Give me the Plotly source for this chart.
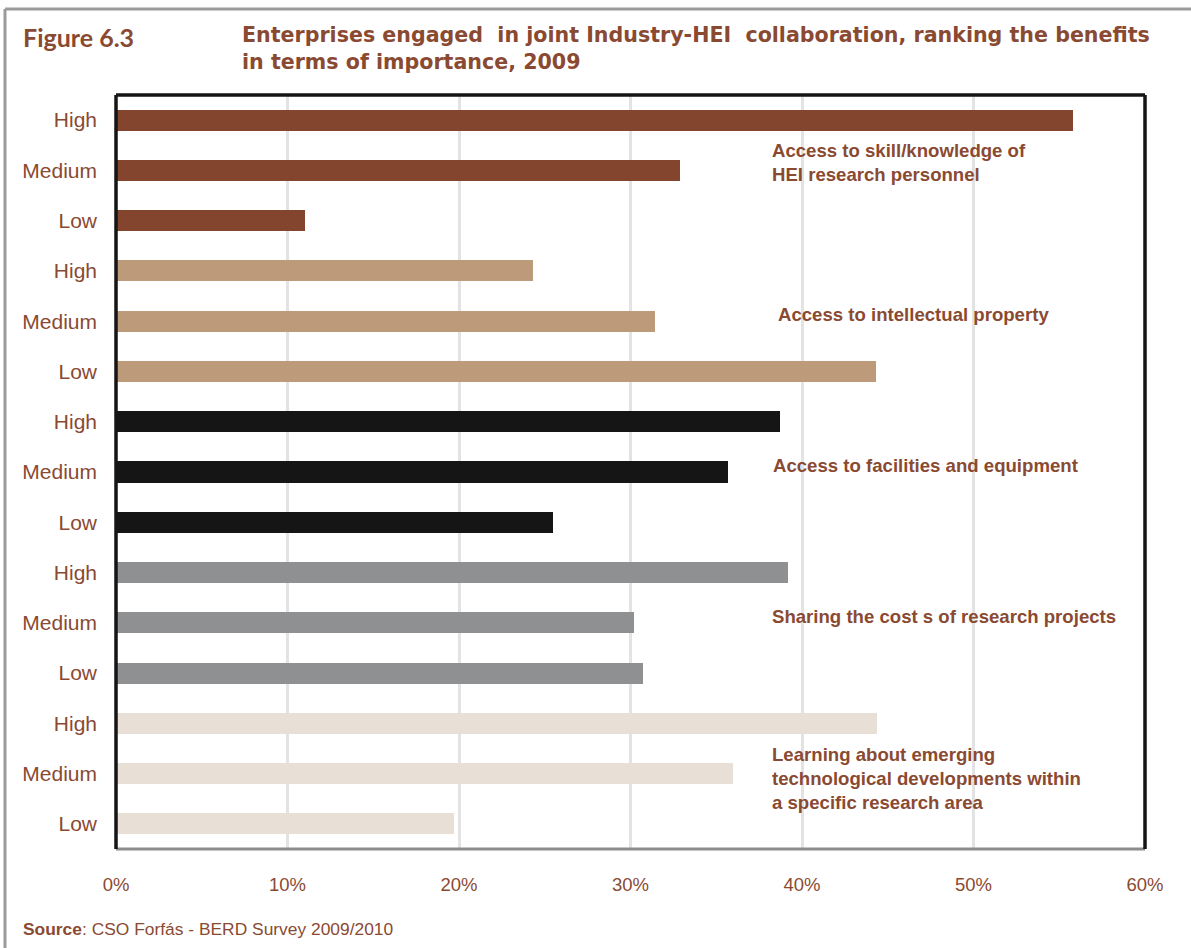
import plotly.graph_objects as go

INK = "#8a4a32"
W, H = 1191, 948
# plot area in pixels (left, right, top, bottom)
L, R, T, B = 116, 1145, 95, 849

benefits = [
    "Access to skill/knowledge of<br>HEI research personnel",
    "Access to intellectual property",
    "Access to facilities and equipment",
    "Sharing the cost s of research projects",
    "Learning about emerging<br>technological developments within<br>a specific research area",
]
levels = ["High", "Medium", "Low"]
colors = ["#84452f", "#bc9a7a", "#151515", "#8f9091", "#e8dfd6"]
values = [
    [55.8, 32.9, 11.0],
    [24.3, 31.4, 44.3],
    [38.7, 35.7, 25.5],
    [39.2, 30.2, 30.7],
    [44.4, 36.0, 19.7],
]
label_x = [38.15, 38.5, 38.2, 38.15, 38.15]
label_y = [0.84, 3.86, 6.88, 9.88, 13.09]
x_ticks = [0, 10, 20, 30, 40, 50, 60]


def px(x):
    return (x - L) / (R - L)


def py(y):
    return (B - y) / (B - T)


fig = go.Figure()
pos = 0
for name, col, vals in zip(benefits, colors, values):
    ys = list(range(pos, pos + len(vals)))
    fig.add_trace(go.Bar(
        x=vals, y=ys, orientation="h", width=0.42,
        marker=dict(color=col, line=dict(width=0)),
        name=name.replace("<br>", " "), showlegend=False,
        hovertemplate="%{x:.1f}%<extra></extra>",
    ))
    pos += len(vals)

ticktext = levels * len(benefits)
fig.update_yaxes(
    tickvals=list(range(len(ticktext))), ticktext=ticktext,
    range=[len(ticktext) - 0.5, -0.5], showgrid=False, zeroline=False,
    showline=False, ticks="", ticklabelstandoff=18,
    tickfont=dict(family="Liberation Sans, Arial", size=21, color=INK),
)
fig.update_xaxes(
    range=[0, 60], tickvals=x_ticks, ticktext=[f"{v}%" for v in x_ticks],
    showgrid=True, gridcolor="#e3e3e3", gridwidth=3, zeroline=False,
    showline=False, ticks="", ticklabelstandoff=22,
    tickfont=dict(family="Liberation Sans, Arial", size=18.5, color=INK),
)

for text, x, y in zip(benefits, label_x, label_y):
    fig.add_annotation(
        x=x, y=y, xref="x", yref="y", text=f"<b>{text}</b>",
        showarrow=False, xanchor="left", yanchor="middle", align="left",
        font=dict(family="Liberation Sans, Arial", size=18.6, color=INK),
    )

# title, figure number and source
fig.add_annotation(
    x=px(21), y=py(37), xref="paper", yref="paper", text="<b>Figure 6.3</b>",
    showarrow=False, xanchor="left", yanchor="middle",
    font=dict(family="Lato, sans-serif", size=25, color=INK),
)
fig.add_annotation(
    x=px(240), y=py(48), xref="paper", yref="paper",
    text="<b>Enterprises engaged  in joint Industry-HEI  collaboration, ranking the benefits"
         "<br>in terms of importance, 2009</b>",
    showarrow=False, xanchor="left", yanchor="middle", align="left",
    font=dict(family="DejaVu Sans", size=20.6, color=INK),
)
fig.add_annotation(
    x=px(21), y=py(929), xref="paper", yref="paper",
    text="<b>Source</b>: CSO Forfás - BERD Survey 2009/2010",
    showarrow=False, xanchor="left", yanchor="middle",
    font=dict(family="Liberation Sans, Arial", size=17.4, color=INK),
)

frame = [
    # outer grey frame
    dict(x0=px(5), x1=px(5), y0=py(9), y1=py(960), color="#9b9b9b", w=3),
    dict(x0=px(5), x1=px(1200), y0=py(9), y1=py(9), color="#9b9b9b", w=3),
    # plot box
    dict(x0=0, x1=1, y0=0, y1=0, color="#8c8c8c", w=3),
    dict(x0=0, x1=0, y0=0, y1=1, color="#151515", w=3.5),
    dict(x0=0, x1=1, y0=1, y1=1, color="#151515", w=3.5),
    dict(x0=1, x1=1, y0=0, y1=1, color="#151515", w=3.5),
]
for f in frame:
    fig.add_shape(type="line", xref="paper", yref="paper",
                  x0=f["x0"], x1=f["x1"], y0=f["y0"], y1=f["y1"],
                  line=dict(color=f["color"], width=f["w"]), layer="above")

fig.update_layout(
    width=W, height=H,
    margin=dict(l=L, r=W - R, t=T, b=H - B, autoexpand=False),
    paper_bgcolor="white", plot_bgcolor="white",
    bargap=0, showlegend=False,
)

# the page's default body margin would shift the whole figure by 8px
fig.write_html("out.html", config={"displayModeBar": False},
               post_script="document.body.style.margin = '0';")
